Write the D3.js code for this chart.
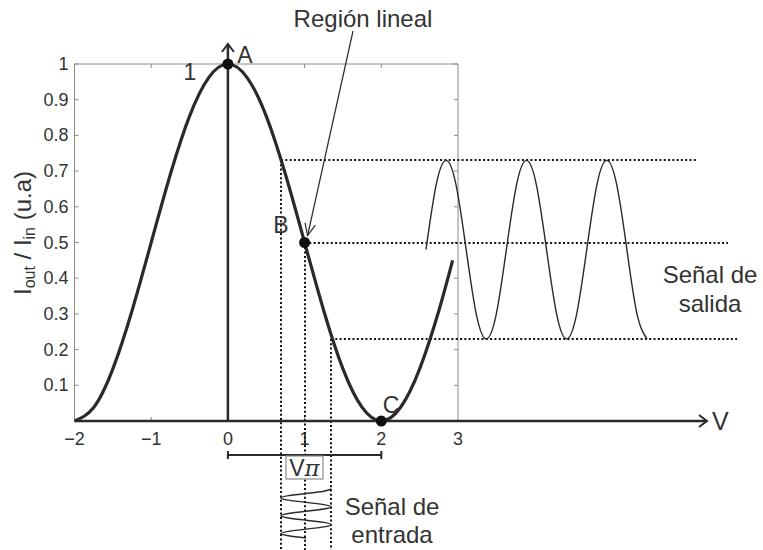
<!DOCTYPE html>
<html><head><meta charset="utf-8">
<script src="https://cdn.jsdelivr.net/npm/d3@7"></script>
<style>
html,body{margin:0;padding:0;background:#fff;}
svg{display:block;font-family:"Liberation Sans",Arial,sans-serif;}
</style></head>
<body><svg id="c" width="763" height="550"></svg>
<script>
// ---- data ----
const transferV = [-2,-1.75,-1.5,-1.25,-1,-0.75,-0.5,-0.25,0,0.25,0.5,0.75,1,1.25,1.5,1.75,2,2.25,2.5,2.75,2.93];
const transferI = [0,0.038,0.146,0.309,0.5,0.691,0.854,0.962,1,0.962,0.854,0.691,0.5,0.309,0.146,0.038,0,0.038,0.146,0.309,0.45];
const xTicks = [-2,-1,0,1,2,3];
const xTickLabels = ["\u22122","\u22121","0","1","2","3"];
const yTicks = [0.1,0.2,0.3,0.4,0.5,0.6,0.7,0.8,0.9,1];
const yTickLabels = ["0.1","0.2","0.3","0.4","0.5","0.6","0.7","0.8","0.9","1"];
const pointNames = ["A","B","C"];
const pointV = [0,1,2];
const pointI = [1,0.5,0];
const biasV = [0.69,1.0,1.35];      // input swing: min, bias, max
const levelI = [0.73,0.5,0.23];     // output levels
// output signal (time in quarter periods)
const outT = [0,0.5,1,1.5,2,2.5,3,3.5,4,4.5,5,5.5,6,6.5,7,7.5,8,8.5,9,9.5,10,10.5,11];
const outI = [0.48,0.66,0.73,0.66,0.48,0.30,0.23,0.30,0.48,0.66,0.73,0.66,0.48,0.30,0.23,0.30,0.48,0.66,0.73,0.66,0.48,0.30,0.23];
// input signal (time in quarter periods, downward)
const inT = [0,0.5,1,1.5,2,2.5,3,3.5,4,4.5,5,5.5,6,6.5,7,7.5,8,8.5,9,9.5,10,10.5,11];
const inV = [1.35,1.25,1.02,0.79,0.69,0.79,1.02,1.25,1.35,1.25,1.02,0.79,0.69,0.79,1.02,1.25,1.35,1.25,1.02,0.79,0.69,0.79,1.02];

// ---- layout ----
const svg = d3.select("#c");
const x = d3.scaleLinear().domain([-2,3]).range([74.5,458]);
const y = d3.scaleLinear().domain([0,1]).range([421,64]);
const tOut = d3.scaleLinear().domain([0,11]).range([426,647]);
const tIn = d3.scaleLinear().domain([0,11]).range([489,538]);
const ink = "#2a2a2a", gray = "#8a8a8a";
const xAxisEnd = 707;

// box (thin gray)
svg.append("path").attr("d",`M${x(-2)},${y(0)}V${y(1)}H${x(3)}V${y(0)}`)
  .attr("fill","none").attr("stroke",gray).attr("stroke-width",1);
// y ticks left and right (inward)
yTicks.forEach(v=>{
  svg.append("line").attr("x1",x(-2)).attr("x2",x(-2)+4).attr("y1",y(v)).attr("y2",y(v)).attr("stroke",gray);
  svg.append("line").attr("x1",x(3)).attr("x2",x(3)-4).attr("y1",y(v)).attr("y2",y(v)).attr("stroke",gray);
});
[-1,1,2].forEach(v=>{
  svg.append("line").attr("x1",x(v)).attr("x2",x(v)).attr("y1",y(1)).attr("y2",y(1)+4).attr("stroke",gray);
  svg.append("line").attr("x1",x(v)).attr("x2",x(v)).attr("y1",y(0)).attr("y2",y(0)-4).attr("stroke",gray);
});
// y tick labels
svg.selectAll(".yl").data(yTicks).enter().append("text")
  .attr("x",x(-2)-6).attr("y",d=>y(d)+6).attr("text-anchor","end")
  .attr("font-size",18).attr("fill","#333").text((d,i)=>yTickLabels[i]);
// x tick labels
svg.selectAll(".xl").data(xTicks).enter().append("text")
  .attr("x",d=>x(d)).attr("y",445).attr("text-anchor","middle")
  .attr("font-size",18).attr("fill","#333").text((d,i)=>xTickLabels[i]);

// dotted guides (snapped to whole pixels so the dots stay crisp)
const dot = s=>s.attr("stroke","#111").attr("stroke-width",2).attr("stroke-dasharray","2,2.3").attr("fill","none");
const hEnds = [698,728,737];
biasV.forEach((v,i)=>{
  const yy = Math.round(y(levelI[i])), xx = Math.round(x(v));
  dot(svg.append("line").attr("x1",xx).attr("x2",hEnds[i]).attr("y1",yy).attr("y2",yy));
  dot(svg.append("line").attr("x1",xx).attr("x2",xx).attr("y1",yy).attr("y2",550));
});

// x axis (thick) with arrow
svg.append("line").attr("x1",x(-2)).attr("x2",xAxisEnd).attr("y1",y(0)).attr("y2",y(0))
  .attr("stroke",ink).attr("stroke-width",2.5);
svg.append("path").attr("d",`M${xAxisEnd-8},${y(0)-6}L${xAxisEnd},${y(0)}L${xAxisEnd-8},${y(0)+6}`)
  .attr("fill","none").attr("stroke",ink).attr("stroke-width",2);
svg.append("text").attr("x",712).attr("y",430).attr("font-size",25).attr("fill","#333").text("V");
// vertical axis at 0 with arrow
const yTop = 44;
svg.append("line").attr("x1",x(0)).attr("x2",x(0)).attr("y1",y(0)).attr("y2",yTop)
  .attr("stroke",ink).attr("stroke-width",2.5);
svg.append("path").attr("d",`M${x(0)-6},${yTop+8}L${x(0)},${yTop}L${x(0)+6},${yTop+8}`)
  .attr("fill","none").attr("stroke",ink).attr("stroke-width",2);

// transfer curve
const tf = transferV.map((v,i)=>[v,transferI[i]]);
svg.append("path").datum(tf)
  .attr("d",d3.line().x(d=>x(d[0])).y(d=>y(d[1])).curve(d3.curveNatural))
  .attr("fill","none").attr("stroke",ink).attr("stroke-width",3.2);

// output signal
const os = outT.map((t,i)=>[t,outI[i]]);
svg.append("path").datum(os)
  .attr("d",d3.line().x(d=>tOut(d[0])).y(d=>y(d[1])).curve(d3.curveNatural))
  .attr("fill","none").attr("stroke",ink).attr("stroke-width",1.4);
// input signal
const is = inT.map((t,i)=>[inV[i],t]);
svg.append("path").datum(is)
  .attr("d",d3.line().x(d=>x(d[0])).y(d=>tIn(d[1])).curve(d3.curveNatural))
  .attr("fill","none").attr("stroke",ink).attr("stroke-width",1.4);

// points
svg.selectAll(".pt").data(pointV).enter().append("circle")
  .attr("cx",d=>x(d)).attr("cy",(d,i)=>y(pointI[i])).attr("r",5.5).attr("fill","#111");
const labPos = [[245,63],[281,233],[391,413]];
pointNames.forEach((n,i)=>svg.append("text").attr("x",labPos[i][0]).attr("y",labPos[i][1])
  .attr("text-anchor","middle").attr("font-size",23).attr("fill","#333").text(n));
svg.append("text").attr("x",190).attr("y",80).attr("text-anchor","middle").attr("font-size",23).attr("fill","#333").text("1");

// Vπ bracket
const by = 455;
svg.append("path").attr("d",`M${x(0)},${by-4}V${by+4}M${x(0)},${by}H${x(2)}M${x(2)},${by-4}V${by+4}`)
  .attr("fill","none").attr("stroke",ink).attr("stroke-width",2);
svg.append("rect").attr("x",286).attr("y",456).attr("width",37).attr("height",23)
  .attr("fill","#fff").attr("stroke",gray).attr("stroke-width",1.2);
const vp = svg.append("text").attr("x",304.5).attr("y",476).attr("text-anchor","middle").attr("font-size",23).attr("fill","#333");
vp.append("tspan").text("V");
vp.append("tspan").attr("font-style","italic").attr("font-family","DejaVu Serif").text("\u03c0");

// Región lineal
svg.append("text").attr("x",363).attr("y",27).attr("text-anchor","middle").attr("font-size",24).attr("fill","#333").text("Región lineal");
const a0=[353,31], a1=[x(1)+3,y(0.5)-7];
svg.append("line").attr("x1",a0[0]).attr("y1",a0[1]).attr("x2",a1[0]).attr("y2",a1[1]).attr("stroke",ink).attr("stroke-width",1.2);
const ang=Math.atan2(a1[1]-a0[1],a1[0]-a0[0]), L=13, w=0.42;
svg.append("path").attr("d",`M${a1[0]-L*Math.cos(ang-w)},${a1[1]-L*Math.sin(ang-w)}L${a1[0]},${a1[1]}L${a1[0]-L*Math.cos(ang+w)},${a1[1]-L*Math.sin(ang+w)}`)
  .attr("fill","none").attr("stroke",ink).attr("stroke-width",1.2);

// signal labels
[["Señal de",283],["salida",312]].forEach(d=>svg.append("text").attr("x",710).attr("y",d[1]).attr("text-anchor","middle").attr("font-size",24).attr("fill","#333").text(d[0]));
[["Señal de",515],["entrada",543]].forEach(d=>svg.append("text").attr("x",392).attr("y",d[1]).attr("text-anchor","middle").attr("font-size",24).attr("fill","#333").text(d[0]));

// y label
const yl = svg.append("text").attr("transform","translate(31,233) rotate(-90)").attr("text-anchor","middle")
  .attr("font-size",24).attr("fill","#333");
yl.append("tspan").text("I");
yl.append("tspan").attr("font-size",16).attr("dy",4).text("out");
yl.append("tspan").attr("dy",-4).text(" / I");
yl.append("tspan").attr("font-size",16).attr("dy",4).text("in");
yl.append("tspan").attr("dy",-4).text(" (u.a)");
</script></body></html>
